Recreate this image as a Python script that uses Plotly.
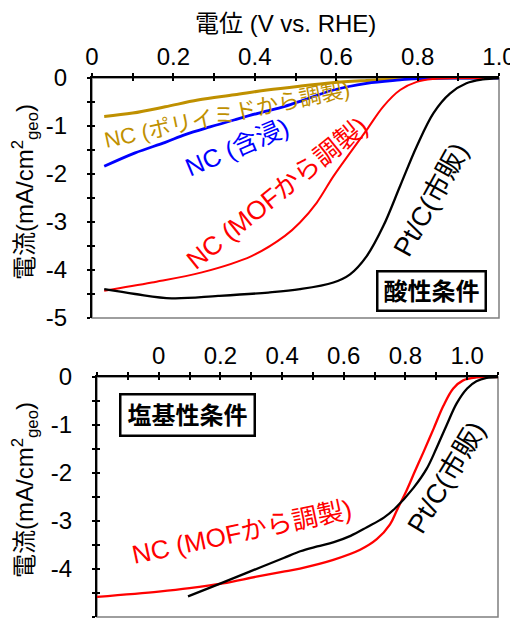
import plotly.graph_objects as go

# ---------------- data ----------------
# Acidic (top panel)
acid_poly_x = [0.03, 0.10, 0.18, 0.26, 0.35, 0.43, 0.51, 0.59, 0.67, 0.75, 0.84, 0.92, 1.0]
acid_poly_y = [-0.80, -0.73, -0.60, -0.46, -0.35, -0.25, -0.17, -0.10, -0.055, -0.02, -0.005, 0, 0]

acid_imp_x = [0.03, 0.106, 0.18, 0.229, 0.29, 0.351, 0.41, 0.474, 0.52, 0.593, 0.675, 0.757, 0.80, 0.90, 1.0]
acid_imp_y = [-1.84, -1.56, -1.34, -1.18, -1.02, -0.87, -0.73, -0.59, -0.46, -0.25, -0.11, -0.04, -0.01, 0, 0]

acid_mof_x = [0.03, 0.147, 0.27, 0.392, 0.474, 0.511, 0.552, 0.593, 0.634, 0.675, 0.716, 0.757, 0.798, 0.84, 0.90, 1.0]
acid_mof_y = [-4.43, -4.26, -4.05, -3.71, -3.29, -3.01, -2.60, -2.05, -1.56, -1.08, -0.59, -0.25, -0.08, -0.02, 0, 0]

acid_pt_x = [0.03, 0.106, 0.196, 0.31, 0.433, 0.511, 0.593, 0.634, 0.675, 0.716, 0.757, 0.798, 0.839, 0.88, 0.92, 0.96, 1.0]
acid_pt_y = [-4.40, -4.50, -4.59, -4.54, -4.47, -4.40, -4.26, -4.09, -3.71, -3.08, -2.25, -1.42, -0.73, -0.32, -0.11, -0.03, 0]

# Alkaline (bottom panel)
alk_mof_x = [-0.2, 0.0, 0.10, 0.208, 0.317, 0.40, 0.458, 0.566, 0.653, 0.707, 0.75, 0.772, 0.804,
             0.831, 0.858, 0.891, 0.923, 0.955, 0.987, 1.03, 1.1]
alk_mof_y = [-4.58, -4.47, -4.40, -4.30, -4.16, -4.06, -3.99, -3.81, -3.60, -3.38, -3.07, -2.78, -2.36,
             -1.96, -1.57, -1.08, -0.60, -0.24, -0.07, -0.01, 0]

alk_pt_x = [0.095, 0.189, 0.297, 0.405, 0.459, 0.514, 0.568, 0.622, 0.675, 0.73, 0.766, 0.826, 0.869,
            0.90, 0.933, 0.966, 1.0, 1.03, 1.063, 1.1]
alk_pt_y = [-4.57, -4.33, -4.05, -3.77, -3.63, -3.53, -3.44, -3.31, -3.13, -2.93, -2.74, -2.31, -1.91,
            -1.49, -1.01, -0.55, -0.24, -0.09, -0.02, 0]

x_tickvals = [0, 0.2, 0.4, 0.6, 0.8, 1.0]
x_ticktext = ["0", "0.2", "0.4", "0.6", "0.8", "1.0"]
y_tickvals = [0, -1, -2, -3, -4, -5]
y_ticktext = ["0", "-1", "-2", "-3", "-4", "-5"]

x_title = "電位 (V vs. RHE)"
y_title = "電流(mA/cm<sup>2</sup><sub>geo</sub>)"

GOLD = "#BF9000"
BLUE = "#0000FF"
RED = "#FF0000"
BLACK = "#000000"
FONT = "Liberation Sans, Arial, Noto Sans CJK JP, sans-serif"
CJK = "Liberation Sans, Noto Sans CJK JP, sans-serif"

# page has an 8px body margin; figure sized to fit the window
OFF = 8
W, H = 518 - OFF, 625 - OFF

def fx(px):
    return (px - OFF) / W

def fy(py):
    return 1 - (py - OFF) / H

fig = go.Figure()

def add(x, y, color, width, xa, ya):
    fig.add_trace(go.Scatter(x=x, y=y, mode="lines", xaxis=xa, yaxis=ya,
                             line=dict(color=color, width=width, shape="spline", smoothing=1.0),
                             showlegend=False, hoverinfo="skip"))

add(acid_poly_x, acid_poly_y, GOLD, 3, "x", "y")
add(acid_imp_x, acid_imp_y, BLUE, 2.8, "x", "y")
add(acid_mof_x, acid_mof_y, RED, 2, "x", "y")
add(acid_pt_x, acid_pt_y, BLACK, 2.3, "x", "y")
add(alk_mof_x, alk_mof_y, RED, 2.3, "x2", "y2")
add(alk_pt_x, alk_pt_y, BLACK, 2.3, "x2", "y2")

# invisible traces to activate overlay axes (for crossing tick marks)
fig.add_trace(go.Scatter(x=[None], y=[None], xaxis="x3", yaxis="y3", showlegend=False))
fig.add_trace(go.Scatter(x=[None], y=[None], xaxis="x4", yaxis="y4", showlegend=False))

top_dom_x = [fx(92), fx(499)]
top_dom_y = [fy(318), fy(78)]
bot_dom_x = [fx(97), fx(498)]
bot_dom_y = [fy(617), fy(377)]

def xax(dom, anchor, rng, overlay=None):
    d = dict(domain=dom, anchor=anchor, range=rng, side="top", automargin=False,
             tickmode="array", tickvals=x_tickvals, ticktext=x_ticktext,
             showgrid=False, zeroline=False, fixedrange=True)
    if overlay:
        d.update(overlaying=overlay, ticks="inside", ticklen=3, tickwidth=1.5, tickcolor="black",
                 showticklabels=False, showline=False,
                 minor=dict(dtick=0.1, tick0=0, ticks="inside", ticklen=3, tickwidth=1.5, tickcolor="black"))
    else:
        d.update(ticks="outside", ticklen=3, tickwidth=1.5, tickcolor="black",
                 showline=True, linecolor="black", linewidth=2,
                 tickfont=dict(size=24, color="black", family=FONT), ticklabelstandoff=-2,
                 minor=dict(dtick=0.1, tick0=0, ticks="outside", ticklen=3, tickwidth=1.5, tickcolor="black"))
    return d

def yax(dom, anchor, overlay=None):
    d = dict(domain=dom, anchor=anchor, range=[-5, 0], side="left", automargin=False,
             tickmode="array", tickvals=y_tickvals, ticktext=y_ticktext,
             showgrid=False, zeroline=False, fixedrange=True)
    if overlay:
        d.update(overlaying=overlay, ticks="inside", ticklen=3, tickwidth=1.5, tickcolor="black",
                 showticklabels=False, showline=False,
                 minor=dict(dtick=0.5, tick0=0, ticks="inside", ticklen=3, tickwidth=1.5, tickcolor="black"))
    else:
        d.update(ticks="outside", ticklen=3, tickwidth=1.5, tickcolor="black",
                 showline=True, linecolor="black", linewidth=2,
                 tickfont=dict(size=24, color="black", family=FONT), ticklabelstandoff=15,
                 minor=dict(dtick=0.5, tick0=0, ticks="outside", ticklen=3, tickwidth=1.5, tickcolor="black"))
    return d

fig.update_layout(
    width=W, height=H,
    margin=dict(l=0, r=0, t=0, b=0, pad=0, autoexpand=False),
    paper_bgcolor="white", plot_bgcolor="white",
    font=dict(family=FONT, size=24, color="black"),
    xaxis=xax(top_dom_x, "y", [0, 1.0]),
    yaxis=yax(top_dom_y, "x"),
    xaxis2=xax(bot_dom_x, "y2", [-0.2, 1.1]),
    yaxis2=yax(bot_dom_y, "x2"),
    xaxis3=xax(top_dom_x, "y", [0, 1.0], overlay="x"),
    yaxis3=yax(top_dom_y, "x", overlay="y"),
    xaxis4=xax(bot_dom_x, "y2", [-0.2, 1.1], overlay="x2"),
    yaxis4=yax(bot_dom_y, "x2", overlay="y2"),
)

# gray right/bottom frame lines
for xr, yr in (("x domain", "y domain"), ("x2 domain", "y2 domain")):
    fig.add_shape(type="rect", xref=xr, yref=yr, x0=0, x1=1, y0=0, y1=1,
                  line=dict(color="#7f7f7f", width=1.5), layer="below")

C = dict(xanchor="center", yanchor="middle", showarrow=False)
ann = []
# axis titles
ann.append(dict(text=x_title, xref="paper", yref="paper", x=fx(285), y=fy(23),
                font=dict(size=24, family=CJK), **C))
ann.append(dict(text=y_title, xref="paper", yref="paper", x=fx(25), y=fy(192),
                textangle=-90, font=dict(size=24, family=CJK), **C))
ann.append(dict(text=y_title, xref="paper", yref="paper", x=fx(25), y=fy(490),
                textangle=-90, font=dict(size=24, family=CJK), **C))

# curve labels, top panel
ann.append(dict(text="NC (ポリイミドから調製)", xref="x", yref="y", x=0.334, y=-0.77,
                textangle=-12, font=dict(size=22, color=GOLD, family=CJK), **C))
ann.append(dict(text="NC (含浸)", xref="x", yref="y", x=0.356, y=-1.43,
                textangle=-23, font=dict(size=25, color=BLUE, family=CJK), **C))
ann.append(dict(text="NC (MOFから調製)", xref="x", yref="y", x=0.455, y=-2.39,
                textangle=-39, font=dict(size=26, color=RED, family=CJK), **C))
ann.append(dict(text="Pt/C(市販)", xref="x", yref="y", x=0.835, y=-2.53,
                textangle=-61, font=dict(size=27, color=BLACK, family=CJK), **C))
ann.append(dict(text="<b>酸性条件</b>", xref="x", yref="y", x=0.833, y=-4.44,
                font=dict(size=24, color=BLACK, family=CJK),
                bordercolor="black", borderwidth=2.5, borderpad=5, bgcolor="white", **C))

# bottom panel
ann.append(dict(text="NC (MOFから調製)", xref="x2", yref="y2", x=0.27, y=-3.23,
                textangle=-12, font=dict(size=26, color=RED, family=CJK), **C))
ann.append(dict(text="Pt/C(市販)", xref="x2", yref="y2", x=0.934, y=-2.08,
                textangle=-59, font=dict(size=27, color=BLACK, family=CJK), **C))
ann.append(dict(text="<b>塩基性条件</b>", xref="x2", yref="y2", x=0.092, y=-0.79,
                font=dict(size=24, color=BLACK, family=CJK),
                bordercolor="black", borderwidth=2.5, borderpad=6, bgcolor="white", **C))

fig.update_layout(annotations=ann)
fig.write_html("out.html")
